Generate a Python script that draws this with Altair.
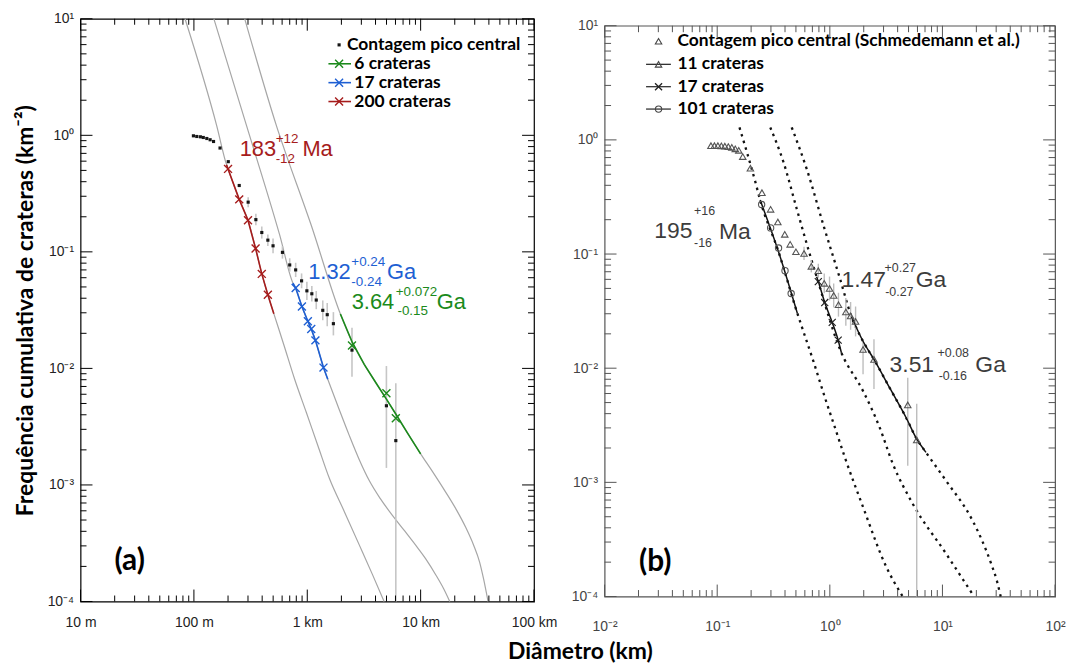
import json
import altair as alt
import pandas as pd

# ---------------- colours / fonts ----------------
RED, BLUE, GREEN = "#a61c1c", "#1e5fd3", "#1b8a1b"
ISO_GRAY = "#a6a6a6"
BAR_GRAY = "#c6c6c6"
TXT_B = "#3c3c3c"
NUM_FONT = "Liberation Sans"
BOLD_FONT = "Lato"

# ================= Panel (a) data =================
A_count_D = [0.099, 0.106, 0.114, 0.121, 0.130, 0.139, 0.149, 0.170, 0.201, 0.251, 0.301, 0.352, 0.397, 0.449,
             0.499, 0.604, 0.700, 0.790, 0.891, 0.992, 1.097, 1.20, 1.37, 1.50, 1.70, 2.48, 4.99, 6.04]
A_count_N = [0.990, 0.977, 0.971, 0.958, 0.939, 0.916, 0.885, 0.778, 0.594, 0.371, 0.267, 0.189, 0.1466, 0.126,
             0.1127, 0.099, 0.0772, 0.070, 0.0564, 0.0463, 0.0437, 0.0386, 0.0315, 0.0289, 0.0242, 0.01435, 0.00478, 0.0024]
A_bar_D = [0.301, 0.352, 0.397, 0.449, 0.499, 0.604, 0.700, 0.790, 0.891, 0.992, 1.097, 1.20, 1.37, 1.50, 1.70,
           2.48, 4.99, 6.04]
A_bar_hi = [0.294, 0.212, 0.165, 0.141, 0.1305, 0.112, 0.0881, 0.0806, 0.0653, 0.0555, 0.051, 0.0462, 0.0383,
            0.0364, 0.0304, 0.0223, 0.01048, 0.00746]
A_bar_lo = [0.242, 0.169, 0.130, 0.112, 0.0973, 0.0875, 0.0677, 0.0608, 0.0487, 0.0387, 0.0375, 0.0322, 0.0259,
            0.023, 0.0192, 0.0085, 0.0014, 0.0001]

# isochrons (gray)
A_iso1_D = [0.0835, 0.159, 0.194, 0.200, 0.251, 0.300, 0.350, 0.397, 0.449, 0.507, 0.620, 0.774, 0.980, 1.239,
            1.569, 2.124, 2.874, 3.762, 4.765]
A_iso1_N = [10.0, 1.205, 0.56, 0.515, 0.282, 0.187, 0.107, 0.0647, 0.0428, 0.0295, 0.01605, 0.00807, 0.0042,
            0.00218, 0.001134, 0.00059, 0.000306, 0.00017, 0.0001]
A_iso2_D = [0.150, 0.2917, 0.5715, 0.748, 0.790, 0.897, 1.012, 1.084, 1.18, 1.39, 1.516, 1.920, 2.35, 2.876, 3.52,
            4.395, 5.636, 7.138, 9.04, 11.13, 13.62, 16.01, 18.07]
A_iso2_N = [10.0, 1.205, 0.139, 0.0539, 0.0489, 0.034, 0.0254, 0.0218, 0.0174, 0.01016, 0.00807, 0.004393, 0.00265,
            0.001646, 0.00109, 0.000766, 0.000548, 0.000409, 0.000304, 0.000231, 0.000169, 0.000128, 0.0001]
A_iso3_D = [0.2807, 0.535, 1.084, 1.96, 2.497, 3.18, 4.055, 4.99, 6.035, 7.74, 10.0, 12.82, 16.57, 20.82, 24.97,
            29.35, 33.13, 35.92, 39.33]
A_iso3_N = [10.0, 1.205, 0.169, 0.0293, 0.0167, 0.01083, 0.00746, 0.00545, 0.00406, 0.00274, 0.00185, 0.001288,
            0.000873, 0.000605, 0.000433, 0.000304, 0.000218, 0.000156, 0.0001]

# fits
A_red_D = [0.194, 0.200, 0.251, 0.300, 0.350, 0.397, 0.449, 0.507]
A_red_N = [0.56, 0.515, 0.282, 0.187, 0.107, 0.0647, 0.0428, 0.0295]
A_blue_D = [0.748, 0.790, 0.897, 1.012, 1.084, 1.18, 1.39, 1.516]
A_blue_N = [0.0539, 0.0489, 0.034, 0.0254, 0.0218, 0.0174, 0.01016, 0.00807]
A_green_D = [1.96, 2.497, 3.18, 4.055, 4.99, 6.035, 7.74, 10.0]
A_green_N = [0.0293, 0.0167, 0.01083, 0.00746, 0.00545, 0.00406, 0.00274, 0.00185]

A_xred_D = [0.200, 0.251, 0.300, 0.350, 0.397, 0.449]
A_xred_N = [0.515, 0.282, 0.187, 0.107, 0.0647, 0.0428]
A_xblue_D = [0.790, 0.897, 1.012, 1.084, 1.18, 1.39]
A_xblue_N = [0.0489, 0.034, 0.0254, 0.0218, 0.0174, 0.01016]
A_xgreen_D = [2.48, 4.99, 6.04]
A_xgreen_N = [0.01574, 0.00613, 0.00373]

# annotations
A_txt = ["183", "+12", "-12", "Ma", "1.32", "+0.24", "-0.24", "Ga", "3.64", "+0.072", "-0.15", "Ga"]
A_txt_D = [0.2532, 0.526, 0.526, 0.906, 1.018, 2.447, 2.447, 5.06, 2.466, 6.03, 6.24, 13.9]
A_txt_N = [0.767, 0.934, 0.630, 0.767, 0.0673, 0.0818, 0.0553, 0.0673, 0.0368, 0.0454, 0.0309, 0.0368]
A_txt_size = [22, 13.5, 13.5, 22, 22, 13.5, 13.5, 22, 22, 13.5, 13.5, 22]
A_txt_color = [RED] * 4 + [BLUE] * 4 + [GREEN] * 4

# legend
A_leg_labels = ["Contagem pico central", "6 crateras", "17 crateras", "200 crateras"]
A_leg_colors = ["#111111", GREEN, BLUE, RED]
A_leg_N = [5.97, 4.11, 2.83, 1.949]
A_leg_text_D = [2.239, 2.6, 2.6, 2.6]
A_leg_sym_D = [1.909, 1.909, 1.909, 1.909]
A_leg_line_D1 = [1.537, 1.537, 1.537]
A_leg_line_D2 = [2.432, 2.432, 2.432]

A_tag = "(a)"
A_tag_D, A_tag_N = 0.0271, 0.000222

# ================= Panel (b) data =================
B_tri_D = [0.0880, 0.0945, 0.1014, 0.1089, 0.1169, 0.1255, 0.1348, 0.1447, 0.1554, 0.1686, 0.197, 0.2496, 0.298,
           0.3454, 0.398, 0.4444, 0.500, 0.590, 0.685, 0.790, 0.892, 0.994, 1.082, 1.193, 1.387, 1.529, 1.693, 1.972,
           2.466, 4.92, 5.91]
B_tri_N = [0.890, 0.890, 0.890, 0.887, 0.881, 0.874, 0.860, 0.835, 0.810, 0.714, 0.565, 0.345, 0.2466, 0.191,
           0.1488, 0.1217, 0.1047, 0.1012, 0.078, 0.0715, 0.0554, 0.0499, 0.0434, 0.0360, 0.0311, 0.0287, 0.0257,
           0.01458, 0.01193, 0.00477, 0.00235]
B_bar_D = [0.590, 0.685, 0.790, 0.892, 0.994, 1.082, 1.193, 1.387, 1.529, 1.693, 1.972, 2.466, 4.92, 5.91]
B_bar_hi = [0.1158, 0.088, 0.0823, 0.0677, 0.0635, 0.0552, 0.0458, 0.0412, 0.038, 0.0347, 0.01722, 0.01793,
            0.00825, 0.00487]
B_bar_lo = [0.0885, 0.0691, 0.0621, 0.0453, 0.0392, 0.0341, 0.0283, 0.0235, 0.0217, 0.019, 0.00883, 0.00658,
            0.0014, 0.0001]

B_circ_D = [0.248, 0.298, 0.3505, 0.400, 0.4535]
B_circ_N = [0.2716, 0.1695, 0.113, 0.0715, 0.0451]
B_x17_D = [0.790, 0.901, 1.05, 1.186]
B_x17_N = [0.0574, 0.0376, 0.0252, 0.0176]

B_iso1_D = [0.1577, 0.2183, 0.2405, 0.35, 0.515, 0.582, 0.714, 0.905, 1.109, 1.359, 1.972, 3.166, 4.44]
B_iso1_N = [1.285, 0.4263, 0.297, 0.105, 0.0302, 0.02105, 0.01153, 0.00552, 0.00303, 0.001658, 0.000608,
            0.0001825, 0.0001]
B_iso2_D = [0.296, 0.388, 0.508, 0.667, 0.763, 1.268, 1.972, 2.768, 3.627, 5.445, 10.72, 19.09]
B_iso2_N = [1.285, 0.637, 0.2495, 0.098, 0.0634, 0.01362, 0.00632, 0.00303, 0.001452, 0.00065, 0.000239, 0.0001]
B_iso3_D = [0.459, 0.623, 0.892, 1.228, 1.554, 1.972, 2.466, 3.393, 4.75, 5.91, 7.14, 10.72, 18.44, 22.59, 27.13,
            30.64, 32.9]
B_iso3_N = [1.285, 0.557, 0.1695, 0.0613, 0.0284, 0.01722, 0.01193, 0.00675, 0.0037, 0.0024, 0.00183, 0.00104,
            0.000466, 0.000306, 0.000193, 0.000134, 0.0001]

B_fit101_D = [0.2405, 0.35, 0.515]
B_fit101_N = [0.297, 0.105, 0.0302]
B_fit17_D = [0.763, 0.790, 0.901, 1.05, 1.186, 1.268]
B_fit17_N = [0.0634, 0.0574, 0.0376, 0.0252, 0.0176, 0.01362]
B_fit11_D = [1.554, 1.972, 2.466, 3.393, 4.75, 5.91, 7.14]
B_fit11_N = [0.0284, 0.01722, 0.01193, 0.00675, 0.0037, 0.0024, 0.00183]

B_txt = ["195", "+16", "-16", "Ma", "1.47", "+0.27", "-0.27", "Ga", "3.51", "+0.08", "-0.16", "Ga"]
B_txt_D = [0.02762, 0.0623, 0.0623, 0.1035, 1.268, 3.064, 3.10, 5.79, 3.393, 9.05, 9.25, 19.6]
B_txt_N = [0.1596, 0.2383, 0.1254, 0.1564, 0.0597, 0.0749, 0.0469, 0.0597, 0.01064, 0.01362, 0.00854, 0.01064]
B_txt_size = [23, 12.5, 12.5, 23, 23, 12.5, 12.5, 23, 23, 12.5, 12.5, 23]

B_leg_labels = ["Contagem pico central (Schmedemann et al.)", "11 crateras", "17 crateras", "101 crateras"]
B_leg_N = [7.31, 4.59, 2.924, 1.862]
B_leg_text_D = [0.04436, 0.04436, 0.04436, 0.04436]
B_leg_sym_D = [0.03014, 0.03014, 0.03014, 0.03014]
B_leg_line_D1 = [0.02334, 0.02334, 0.02334]
B_leg_line_D2 = [0.03879, 0.03879, 0.03879]

B_tag = "(b)"
B_tag_D, B_tag_N = 0.0282, 0.000202

# axis labels
XA_LABELS = ["10 m", "100 m", "1 km", "10 km", "100 km"]
XB_LABELS = ["10\u207b\u00b2", "10\u207b\u00b9", "10\u2070", "10\u00b9", "10\u00b2"]
Y_LABELS = ["10\u207b\u2074", "10\u207b\u00b3", "10\u207b\u00b2", "10\u207b\u00b9", "10\u2070", "10\u00b9"]
Y_TITLE = "Frequência cumulativa de crateras (km\u207b\u00b2)"
X_TITLE = "Diâmetro (km)"

# ================= helpers =================
W_A, H_A = 456, 586
W_B, H_B = 453, 574

X_MAJ = [0.01, 0.1, 1, 10, 100]
X_MIN = [round(k * 10.0 ** e, 6) for e in range(-2, 2) for k in range(2, 10)]
Y_MAJ = [0.0001, 0.001, 0.01, 0.1, 1, 10]
Y_MIN = [round(k * 10.0 ** e, 8) for e in range(-4, 1) for k in range(2, 10)]

xs = alt.Scale(type="log", domain=[0.01, 100], nice=False)
ys = alt.Scale(type="log", domain=[0.0001, 10], nice=False)

CROSS = "M-1,-1L1,1M-1,1L1,-1"


def lbl_expr(labels, shift):
    return "%s[round(log(datum.value)/LN10) + %d]" % (json.dumps(labels, ensure_ascii=False), shift)


def df_xy(D, N, **extra):
    d = pd.DataFrame({"D": D, "N": N})
    d["i"] = range(len(d))
    for k, v in extra.items():
        d[k] = v
    return d


def X(field="D", axis=None):
    return alt.X(f"{field}:Q", scale=xs, axis=axis)


def Y(field="N", axis=None):
    return alt.Y(f"{field}:Q", scale=ys, axis=axis)


def text_layer(txt, D, N, size, color, font, weight="normal", align="left"):
    d = pd.DataFrame({"t": txt, "D": D, "N": N, "s": size, "c": color})
    return alt.Chart(d).mark_text(align=align, baseline="middle", font=font, fontWeight=weight).encode(
        x=X(), y=Y(), text="t:N", size=alt.Size("s:Q", scale=None), color=alt.Color("c:N", scale=None))


def tick_layers(W, H, color, major_len, minor_len):
    out = []
    for vals, L in ((X_MAJ, major_len), (X_MIN, minor_len)):
        d = pd.DataFrame({"v": vals})
        out.append(alt.Chart(d).mark_rule(color=color, strokeWidth=1).encode(
            x=X("v"), y=alt.value(H), y2=alt.value(H - L)))
        out.append(alt.Chart(d).mark_rule(color=color, strokeWidth=1).encode(
            x=X("v"), y=alt.value(0), y2=alt.value(L)))
    for vals, L in ((Y_MAJ, major_len), (Y_MIN, minor_len)):
        d = pd.DataFrame({"v": vals})
        out.append(alt.Chart(d).mark_rule(color=color, strokeWidth=1).encode(
            y=Y("v"), x=alt.value(0), x2=alt.value(L)))
        out.append(alt.Chart(d).mark_rule(color=color, strokeWidth=1).encode(
            y=Y("v"), x=alt.value(W), x2=alt.value(W - L)))
    return out


# ================= Panel (a) =================
ax_x_lab_a = alt.Axis(orient="bottom", values=X_MAJ, ticks=False, domain=False, grid=False, title=None,
                      labelExpr=lbl_expr(XA_LABELS, 2), labelFont=NUM_FONT, labelFontSize=14, labelColor="#222222",
                      labelPadding=14, labelOverlap=False, labelFlush=False)
ax_y_lab_a = alt.Axis(orient="left", values=Y_MAJ, ticks=False, domain=False, grid=False, title=Y_TITLE,
                      titleFont=BOLD_FONT, titleFontSize=23, titleFontWeight="bold", titleColor="#000000",
                      titlePadding=10, labelExpr=lbl_expr(Y_LABELS, 4), labelFont=NUM_FONT, labelFontSize=14,
                      labelColor="#222222", labelPadding=7, labelOverlap=False, labelFlush=False)

iso_a = pd.concat([df_xy(A_iso1_D, A_iso1_N, k="1"), df_xy(A_iso2_D, A_iso2_N, k="2"),
                   df_xy(A_iso3_D, A_iso3_N, k="3")])
fits_a = pd.concat([df_xy(A_red_D, A_red_N, k="r", c=RED), df_xy(A_blue_D, A_blue_N, k="b", c=BLUE),
                    df_xy(A_green_D, A_green_N, k="g", c=GREEN)])
xs_a = pd.concat([df_xy(A_xred_D, A_xred_N, c=RED), df_xy(A_xblue_D, A_xblue_N, c=BLUE),
                  df_xy(A_xgreen_D, A_xgreen_N, c=GREEN)])
bars_a = pd.DataFrame({"D": A_bar_D, "lo": A_bar_lo, "hi": A_bar_hi})
pts_a = df_xy(A_count_D, A_count_N)

l_iso_a = alt.Chart(iso_a).mark_line(color=ISO_GRAY, strokeWidth=1.2, interpolate="monotone").encode(
    x=X(axis=ax_x_lab_a), y=Y(axis=ax_y_lab_a), detail="k:N", order="i:Q")
l_bars_a = alt.Chart(bars_a).mark_rule(color=BAR_GRAY, strokeWidth=1.6).encode(x=X(), y=Y("lo"), y2="hi:Q")
l_pts_a = alt.Chart(pts_a).mark_square(size=10, color="#151515", opacity=1).encode(x=X(), y=Y())
l_fit_a = alt.Chart(fits_a).mark_line(strokeWidth=1.6).encode(
    x=X(), y=Y(), color=alt.Color("c:N", scale=None), detail="k:N", order="i:Q")
l_x_a = alt.Chart(xs_a).mark_point(shape=CROSS, size=64, filled=False, strokeWidth=1.4, opacity=1).encode(
    x=X(), y=Y(), color=alt.Color("c:N", scale=None))

l_txt_a = text_layer(A_txt, A_txt_D, A_txt_N, A_txt_size, A_txt_color, NUM_FONT)
l_legt_a = text_layer(A_leg_labels, A_leg_text_D, A_leg_N, [17.5] * 4, ["#000000"] * 4, BOLD_FONT, "bold")
leg_lines_a = pd.DataFrame({"D1": A_leg_line_D1, "D2": A_leg_line_D2, "N": A_leg_N[1:], "c": A_leg_colors[1:]})
l_legl_a = alt.Chart(leg_lines_a).mark_rule(strokeWidth=1.6).encode(
    x=X("D1"), x2="D2:Q", y=Y(), color=alt.Color("c:N", scale=None))
leg_sym_a = pd.DataFrame({"D": A_leg_sym_D[1:], "N": A_leg_N[1:], "c": A_leg_colors[1:]})
l_legx_a = alt.Chart(leg_sym_a).mark_point(shape=CROSS, size=64, filled=False, strokeWidth=1.4, opacity=1).encode(
    x=X(), y=Y(), color=alt.Color("c:N", scale=None))
l_legp_a = alt.Chart(pd.DataFrame({"D": A_leg_sym_D[:1], "N": A_leg_N[:1]})).mark_square(
    size=10, color="#151515", opacity=1).encode(x=X(), y=Y())
l_tag_a = text_layer([A_tag], [A_tag_D], [A_tag_N], [30], ["#000000"], BOLD_FONT, "bold", "center")

panel_a = alt.layer(l_iso_a, l_bars_a, l_pts_a, l_fit_a, l_x_a, l_txt_a, l_legl_a, l_legx_a, l_legp_a, l_legt_a,
                    l_tag_a, *tick_layers(W_A, H_A, "#000000", 12, 6)).resolve_axis(
    x="independent", y="independent").properties(
    width=W_A, height=H_A, view=alt.ViewBackground(stroke="#000000", strokeWidth=1.2))

# ================= Panel (b) =================
ax_x_lab_b = alt.Axis(orient="bottom", values=X_MAJ, ticks=False, domain=False, grid=False, title=None,
                      labelExpr=lbl_expr(XB_LABELS, 2), labelFont=NUM_FONT, labelFontSize=14, labelColor="#444444",
                      labelPadding=23, labelOverlap=False, labelFlush=False)
ax_y_lab_b = alt.Axis(orient="left", values=Y_MAJ, ticks=False, domain=False, grid=False, title=None,
                      labelExpr=lbl_expr(Y_LABELS, 4), labelFont=NUM_FONT, labelFontSize=14,
                      labelColor="#444444", labelPadding=7, labelOverlap=False, labelFlush=False)

iso_b = pd.concat([df_xy(B_iso1_D, B_iso1_N, k="1"), df_xy(B_iso2_D, B_iso2_N, k="2"),
                   df_xy(B_iso3_D, B_iso3_N, k="3")])
fits_b = pd.concat([df_xy(B_fit101_D, B_fit101_N, k="101"), df_xy(B_fit17_D, B_fit17_N, k="17"),
                    df_xy(B_fit11_D, B_fit11_N, k="11")])
bars_b = pd.DataFrame({"D": B_bar_D, "lo": B_bar_lo, "hi": B_bar_hi})

l_iso_b = alt.Chart(iso_b).mark_line(color="#111111", strokeWidth=2.3, strokeDash=[2.5, 4.5],
                                     interpolate="monotone").encode(
    x=X(axis=ax_x_lab_b), y=Y(axis=ax_y_lab_b), detail="k:N", order="i:Q")
l_bars_b = alt.Chart(bars_b).mark_rule(color="#bdbdbd", strokeWidth=1.4).encode(x=X(), y=Y("lo"), y2="hi:Q")
l_fit_b = alt.Chart(fits_b).mark_line(color="#111111", strokeWidth=1.5, interpolate="monotone").encode(
    x=X(), y=Y(), detail="k:N", order="i:Q")
l_tri_b = alt.Chart(df_xy(B_tri_D, B_tri_N)).mark_point(shape="triangle-up", size=42, filled=False,
                                                         color="#555555", strokeWidth=1.1, opacity=1).encode(
    x=X(), y=Y())
l_circ_b = alt.Chart(df_xy(B_circ_D, B_circ_N)).mark_point(shape="circle", size=40, filled=False,
                                                            color="#555555", strokeWidth=1.1, opacity=1).encode(
    x=X(), y=Y())
l_x_b = alt.Chart(df_xy(B_x17_D, B_x17_N)).mark_point(shape=CROSS, size=50, filled=False, color="#222222",
                                                       strokeWidth=1.2, opacity=1).encode(x=X(), y=Y())

l_txt_b = text_layer(B_txt, B_txt_D, B_txt_N, B_txt_size, [TXT_B] * 12, NUM_FONT)
l_legt_b = text_layer(B_leg_labels, B_leg_text_D, B_leg_N, [17.5] * 4, ["#000000"] * 4, BOLD_FONT, "bold")
leg_lines_b = pd.DataFrame({"D1": B_leg_line_D1, "D2": B_leg_line_D2, "N": B_leg_N[1:]})
l_legl_b = alt.Chart(leg_lines_b).mark_rule(strokeWidth=1.3, color="#333333").encode(x=X("D1"), x2="D2:Q", y=Y())
l_legtri_b = alt.Chart(pd.DataFrame({"D": B_leg_sym_D[:2], "N": B_leg_N[:2]})).mark_point(
    shape="triangle-up", size=42, filled=False, color="#444444", strokeWidth=1.1, opacity=1).encode(x=X(), y=Y())
l_legx_b = alt.Chart(pd.DataFrame({"D": B_leg_sym_D[2:3], "N": B_leg_N[2:3]})).mark_point(
    shape=CROSS, size=50, filled=False, color="#222222", strokeWidth=1.3, opacity=1).encode(x=X(), y=Y())
l_legc_b = alt.Chart(pd.DataFrame({"D": B_leg_sym_D[3:], "N": B_leg_N[3:]})).mark_point(
    shape="circle", size=40, filled=False, color="#444444", strokeWidth=1.1, opacity=1).encode(x=X(), y=Y())
l_tag_b = text_layer([B_tag], [B_tag_D], [B_tag_N], [30], ["#000000"], BOLD_FONT, "bold", "center")

panel_b = alt.layer(l_iso_b, l_bars_b, l_fit_b, l_tri_b, l_circ_b, l_x_b, l_txt_b, l_legl_b, l_legtri_b, l_legx_b,
                    l_legc_b, l_legt_b, l_tag_b, *tick_layers(W_B, H_B, "#555555", 12, 6.5)).resolve_axis(
    x="independent", y="independent").properties(
    width=W_B, height=H_B, view=alt.ViewBackground(stroke="#555555", strokeWidth=1.2))

# small invisible spacer above panel (b) to lower its frame a little
spacer = alt.Chart(pd.DataFrame({"v": [1.0]})).mark_point(opacity=0, size=0).encode(
    x=alt.X("v:Q", axis=None), y=alt.Y("v:Q", axis=None)).properties(
    width=1, height=1, view=alt.ViewBackground(stroke="transparent"))
col_b = alt.vconcat(spacer, panel_b, spacing=-3)

chart = alt.hconcat(panel_a, col_b, spacing=12).properties(
    title=alt.TitleParams(X_TITLE, orient="bottom", anchor="middle", font=BOLD_FONT, fontSize=23,
                          fontWeight="bold", color="#000000", offset=7, dx=41),
    padding={"left": 13, "top": 9, "right": 0, "bottom": 0},
).configure(background="white")

chart.save("out.html", embed_options={"renderer": "svg", "actions": False})
